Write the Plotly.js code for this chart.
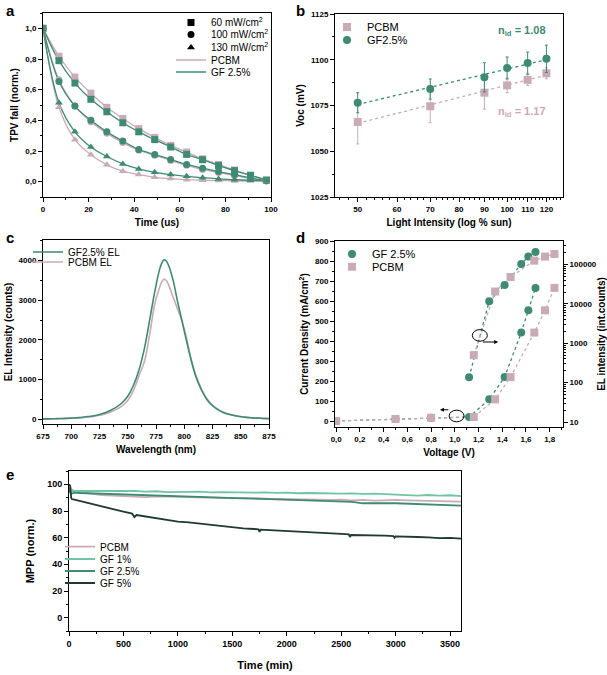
<!DOCTYPE html>
<html><head><meta charset="utf-8">
<script src="https://cdn.plot.ly/plotly-3.0.1.min.js"></script>
<style>html,body{margin:0;padding:0;background:#fff}#chart{width:607px;height:675px}</style>
</head><body><div id="chart"></div>
<script>
const W = 607, H = 675;
const FONT = 'Liberation Sans, Arial, sans-serif';
const GREEN = '#3e8a72', PINK = '#c9abb7', LGREEN = '#6fc6a0', DGREEN = '#1f3a30';

// ---------- panel a: TPV decay ----------
const tpvTime = [0, 7, 14, 21, 28, 35, 42, 49, 56, 63, 70, 77, 84, 91, 98];
const gf60    = [1, 0.789, 0.643, 0.537, 0.456, 0.384, 0.325, 0.274, 0.226, 0.178, 0.143, 0.105, 0.072, 0.042, 0.011];
const pcbm60  = [1, 0.818, 0.682, 0.577, 0.485, 0.412, 0.346, 0.289, 0.237, 0.193, 0.149, 0.112, 0.076, 0.040, 0.008];
const gf100   = [1, 0.653, 0.493, 0.400, 0.325, 0.265, 0.210, 0.177, 0.145, 0.112, 0.088, 0.066, 0.046, 0.024, 0.006];
const pcbm100 = [1, 0.664, 0.493, 0.390, 0.315, 0.255, 0.205, 0.172, 0.138, 0.107, 0.080, 0.060, 0.040, 0.020, 0.004];
const gf130   = [1, 0.515, 0.325, 0.226, 0.164, 0.116, 0.083, 0.061, 0.046, 0.035, 0.026, 0.018, 0.013, 0.009, 0.004];
const pcbm130 = [1, 0.485, 0.274, 0.175, 0.110, 0.068, 0.046, 0.028, 0.020, 0.013, 0.009, 0.007, 0.005, 0.004, 0.003];
const powerLabels = ['60 mW/cm<sup>2</sup>', '100 mW/cm<sup>2</sup>', '130 mW/cm<sup>2</sup>'];

// ---------- panel b: Voc vs light intensity ----------
const intensity = [50, 70, 90, 100, 110, 120];
const vocPCBM = [1066, 1074.6, 1082, 1086, 1089, 1092.6];
const errPCBM = [12, 9, 9, 4, 3, 3];
const vocGF   = [1076.5, 1084, 1090.4, 1095.5, 1098.2, 1100.5];
const errGF   = [5.5, 5.5, 8, 6, 6, 7.5];
const nidLabels = ['n<sub>id</sub> = 1.08', 'n<sub>id</sub> = 1.17'];

// ---------- panel c: EL spectra ----------
const wavelength = [675,680,685,690,695,700,705,710,715,720,725,730,735,740,745,750,755,760,765,770,
                    774,778,780,782,784,786,790,794,798,802,806,810,
                    815,820,825,830,835,840,845,850,855,860,865,870,875];
const elSpecGF   = [8,10,13,17,22,29,39,51,67,90,122,165,225,305,415,580,850,1250,1820,2600,
                    3230,3760,3930,4020,3990,3890,3520,2980,2480,1980,1500,1100,
                    750,500,340,235,165,118,86,62,46,35,27,20,15];
const elSpecPCBM = [7,9,11,14,18,24,32,42,55,73,99,135,184,250,340,475,720,1100,1480,2250,
                    2920,3310,3455,3530,3500,3400,3090,2790,2480,2040,1530,1130,
                    780,520,355,250,178,128,94,69,50,38,29,22,17];

// ---------- panel d: J-V and EL intensity ----------
const voltGF   = [0, 0.5, 0.8, 1.12, 1.29, 1.42, 1.56, 1.62, 1.68];
const jGF      = [2, 12, 18, 22, 110, 221, 443, 554, 666];
const voltPCBM = [0, 0.5, 0.8, 1.16, 1.34, 1.47, 1.67, 1.76, 1.84];
const jPCBM    = [2, 12, 18, 22, 110, 221, 443, 554, 666];
const elVoltGF   = [1.12, 1.29, 1.42, 1.56, 1.62, 1.68];
const elIntGF    = [137, 11800, 30200, 103500, 160000, 209000];
const elVoltPCBM = [1.16, 1.34, 1.47, 1.67, 1.76, 1.84];
const elIntPCBM  = [500, 20700, 48300, 126000, 160000, 186000];

// ---------- panel e: MPP tracking ----------
const mppTime = [0,10,25,50,100,200,300,400,500,600,700,800,900,1000,1100,1200,1300,1400,1500,1600,1700,1800,
                 1900,2000,2100,2200,2300,2400,2500,2600,2700,2800,2900,3000,3100,3200,3300,3400,3500,3600];
const mppPCBM = [100,98,96,95,94,93,92,91.6,91.2,91.3,90.4,91,90.7,90.8,90.4,90.3,90,89.9,89.5,89.8,89.3,89.3,
                 89,88.8,89.1,88.8,88.5,88.4,88.6,88,88.3,87.8,88,88.3,88,87.8,87.6,87.3,87.4,87];
const mppGF1  = [96,95.2,94.8,95,95,95.3,95,95.2,94.8,95,94.6,94.8,94.2,94.5,94.3,94.5,94,94.2,94,94.3,93.8,94,
                 93.6,93.8,93.3,93.5,93.2,93.3,93,93.2,92.8,93,92.6,92.5,92.3,91.5,92,91.5,91.8,91.2];
const mppGF25 = [97,94,93,93.8,93.5,93.2,93,92.7,92.5,92,91.8,91.5,91.2,91,90.8,90.5,90.2,90,89.8,89.5,89.3,89,
                 88.8,88.3,88,87.8,87.5,87.3,87,86.8,85.8,86,85.8,85.8,85.5,85,85.2,84.5,84.3,84];
const timeGF5 = [0,10,20,25,50,100,200,300,400,500,580,600,620,700,800,900,1000,1100,1200,1300,1400,1500,1600,1700,
                 1740,1750,1760,1800,1900,2000,2100,2200,2300,2400,2500,2570,2580,2590,2700,2800,2900,
                 2980,2990,3000,3100,3200,3300,3400,3500,3600];
const mppGF5  = [100,99,90,89,88.5,87.5,85,83.5,81,79.5,78,75.5,77,76,74.5,73.5,72,71.5,70.5,69.5,69,67.5,67,66.5,
                 66.3,64.3,66,65.8,65.3,64.8,64.5,63.8,63.3,63,62.8,62.5,60.5,62,62,61.8,61.5,
                 61.2,59.8,61,61,60.5,60.2,59.7,59.8,59.3];

// ---------- helpers ----------
const px = (x) => x / W;
const py = (y) => 1 - y / H;
function fitLog(xs, ys) {
  const lx = xs.map(Math.log10);
  const n = lx.length;
  const mx = lx.reduce((a, b) => a + b, 0) / n;
  const my = ys.reduce((a, b) => a + b, 0) / n;
  let sxy = 0, sxx = 0;
  for (let i = 0; i < n; i++) { sxy += (lx[i] - mx) * (ys[i] - my); sxx += (lx[i] - mx) ** 2; }
  const b = sxy / sxx, a = my - b * mx;
  return (x) => a + b * Math.log10(x);
}
function baseAxis(extra) {
  return Object.assign({
    showline: true, linecolor: '#000', linewidth: 1, mirror: true,
    ticks: 'outside', ticklen: 4, tickwidth: 1, tickcolor: '#000',
    showgrid: false, zeroline: false, automargin: false, fixedrange: true,
    tickfont: { family: FONT, size: 8, color: '#000', weight: 'bold' }
  }, extra);
}
function title(t, size) { return { text: t, font: { family: FONT, size: size || 10, color: '#000', weight: 'bold' } }; }
function legendAt(textX, yPx, size) {
  return { x: px(textX - 40), y: py(yPx), xref: 'paper', yref: 'paper', xanchor: 'left', yanchor: 'middle',
           bgcolor: 'rgba(0,0,0,0)', borderwidth: 0, font: { family: FONT, size: size || 10, color: '#000' },
           itemwidth: 30, tracegroupgap: 0 };
}
const commaTicks = (vals, d) => vals.map(v => v.toFixed(d).replace('.', ','));

const traces = [];
// panel a
const aSets = [
  [gf60, pcbm60, 'square'], [gf100, pcbm100, 'circle'], [gf130, pcbm130, 'triangle-up']
];
aSets.forEach(([g, p, sym], i) => {
  traces.push({ x: tpvTime, y: p, mode: 'lines', line: { color: PINK, width: 1.3, shape: 'spline' },
    name: 'PCBM', showlegend: i === 0, legend: 'legend4', xaxis: 'x', yaxis: 'y' });
  traces.push({ x: tpvTime, y: g, mode: 'lines', line: { color: GREEN, width: 1.3, shape: 'spline' },
    name: 'GF 2.5%', showlegend: i === 0, legend: 'legend5', xaxis: 'x', yaxis: 'y' });
  traces.push({ x: tpvTime, y: p, mode: 'markers', marker: { color: PINK, size: 7, symbol: sym },
    showlegend: false, xaxis: 'x', yaxis: 'y' });
  traces.push({ x: tpvTime, y: g, mode: 'markers', marker: { color: GREEN, size: 7, symbol: sym },
    showlegend: false, xaxis: 'x', yaxis: 'y' });
});
['square', 'circle', 'triangle-up'].forEach((sym, i) => {
  traces.push({ x: [null], y: [null], mode: 'markers', marker: { color: '#000', size: 7, symbol: sym },
    name: powerLabels[i], legend: i === 0 ? 'legend' : 'legend' + (i + 1), xaxis: 'x', yaxis: 'y' });
});

// panel b
const fitP = fitLog(intensity, vocPCBM), fitG = fitLog(intensity, vocGF);
const fitX = [intensity[0], intensity[intensity.length - 1]];
traces.push({ x: fitX, y: fitX.map(fitP), mode: 'lines', line: { color: PINK, width: 1.3, dash: 'dot' },
  showlegend: false, xaxis: 'x2', yaxis: 'y2' });
traces.push({ x: fitX, y: fitX.map(fitG), mode: 'lines', line: { color: GREEN, width: 1.3, dash: 'dot' },
  showlegend: false, xaxis: 'x2', yaxis: 'y2' });
traces.push({ x: intensity, y: vocPCBM, mode: 'markers', name: 'PCBM', legend: 'legend6',
  marker: { color: PINK, size: 8, symbol: 'square' },
  error_y: { type: 'data', array: errPCBM, color: PINK, thickness: 1, width: 1.5 }, xaxis: 'x2', yaxis: 'y2' });
traces.push({ x: intensity, y: vocGF, mode: 'markers', name: 'GF2.5%', legend: 'legend7',
  marker: { color: GREEN, size: 8, symbol: 'circle' },
  error_y: { type: 'data', array: errGF, color: GREEN, thickness: 1, width: 1.5 }, xaxis: 'x2', yaxis: 'y2' });

// panel c
traces.push({ x: wavelength, y: elSpecPCBM, mode: 'lines', name: 'PCBM EL', legend: 'legend9',
  line: { color: PINK, width: 1.6, shape: 'spline' }, xaxis: 'x3', yaxis: 'y3' });
traces.push({ x: wavelength, y: elSpecGF, mode: 'lines', name: 'GF2.5% EL', legend: 'legend8',
  line: { color: GREEN, width: 1.6, shape: 'spline' }, xaxis: 'x3', yaxis: 'y3' });

// panel d
traces.push({ x: voltGF, y: jGF, mode: 'lines', line: { color: GREEN, width: 1.3, dash: 'dot' }, showlegend: false, xaxis: 'x4', yaxis: 'y4' });
traces.push({ x: elVoltGF, y: elIntGF, mode: 'lines', line: { color: GREEN, width: 1.3, dash: 'dot' }, showlegend: false, xaxis: 'x4', yaxis: 'y5' });
traces.push({ x: voltPCBM, y: jPCBM, mode: 'lines', line: { color: PINK, width: 1.3, dash: 'dot' }, showlegend: false, xaxis: 'x4', yaxis: 'y4' });
traces.push({ x: elVoltPCBM, y: elIntPCBM, mode: 'lines', line: { color: PINK, width: 1.3, dash: 'dot' }, showlegend: false, xaxis: 'x4', yaxis: 'y5' });
traces.push({ x: voltGF, y: jGF, mode: 'markers', name: 'GF 2.5%', legend: 'legend10',
  marker: { color: GREEN, size: 8, symbol: 'circle' }, xaxis: 'x4', yaxis: 'y4' });
traces.push({ x: elVoltGF, y: elIntGF, mode: 'markers', showlegend: false,
  marker: { color: GREEN, size: 8, symbol: 'circle' }, xaxis: 'x4', yaxis: 'y5' });
traces.push({ x: voltPCBM, y: jPCBM, mode: 'markers', name: 'PCBM', legend: 'legend11',
  marker: { color: PINK, size: 8, symbol: 'square' }, xaxis: 'x4', yaxis: 'y4' });
traces.push({ x: elVoltPCBM, y: elIntPCBM, mode: 'markers', showlegend: false,
  marker: { color: PINK, size: 8, symbol: 'square' }, xaxis: 'x4', yaxis: 'y5' });

// panel e
traces.push({ x: mppTime, y: mppPCBM, mode: 'lines', name: 'PCBM', legend: 'legend12', line: { color: PINK, width: 1.8 }, xaxis: 'x5', yaxis: 'y6' });
traces.push({ x: mppTime, y: mppGF1, mode: 'lines', name: 'GF 1%', legend: 'legend13', line: { color: LGREEN, width: 1.8 }, xaxis: 'x5', yaxis: 'y6' });
traces.push({ x: mppTime, y: mppGF25, mode: 'lines', name: 'GF 2.5%', legend: 'legend14', line: { color: GREEN, width: 1.8 }, xaxis: 'x5', yaxis: 'y6' });
traces.push({ x: timeGF5, y: mppGF5, mode: 'lines', name: 'GF 5%', legend: 'legend15', line: { color: DGREEN, width: 1.8 }, xaxis: 'x5', yaxis: 'y6' });

// minor tick values for log axes
const minorB = [];
for (let v = 46; v <= 128; v += 2) if (!intensity.concat([60, 80]).includes(v)) minorB.push(v);
const minorLog = [];
for (let e = 1; e <= 5; e++) for (let k = 2; k <= 9; k++) minorLog.push(k * Math.pow(10, e));

const aY = [0, 0.2, 0.4, 0.6, 0.8, 1.0];
const dX = [0, 0.2, 0.4, 0.6, 0.8, 1.0, 1.2, 1.4, 1.6, 1.8];
const dY2 = [10, 100, 1000, 10000, 100000];

const layout = {
  width: W, height: H, margin: { l: 0, r: 0, t: 0, b: 0 },
  paper_bgcolor: '#fff', plot_bgcolor: '#fff', font: { family: FONT, color: '#000' },
  // panel a
  xaxis: baseAxis({ domain: [px(43), px(271)], range: [0, 100], dtick: 20, minor: { ticks: 'outside', ticklen: 2, dtick: 10, tickcolor: '#000' },
    title: Object.assign(title('Time (us)'), { standoff: 6 }), anchor: 'y' }),
  yaxis: baseAxis({ domain: [py(197), py(13)], range: [-0.1, 1.1], tickmode: 'array', tickvals: aY, ticktext: commaTicks(aY, 1),
    minor: { ticks: 'outside', ticklen: 2, dtick: 0.1, tickcolor: '#000' }, title: Object.assign(title('TPV fall (norm.)'), { standoff: 4 }), anchor: 'x' }),
  // panel b
  xaxis2: baseAxis({ domain: [px(335), px(563)], type: 'log', range: [Math.log10(45), Math.log10(129.6)],
    tickmode: 'array', tickvals: [50, 60, 70, 80, 90, 100, 110, 120], ticktext: ['50', '60', '70', '80', '90', '100', '110', '120'],
    minor: { ticks: 'outside', ticklen: 2, tickmode: 'array', tickvals: minorB, tickcolor: '#000' },
    title: Object.assign(title('Light Intensity (log % sun)'), { standoff: 6 }), anchor: 'y2' }),
  yaxis2: baseAxis({ domain: [py(197), py(14)], range: [1025, 1125], dtick: 25,
    minor: { ticks: 'outside', ticklen: 2, dtick: 12.5, tickcolor: '#000' }, title: Object.assign(title('Voc (mV)'), { standoff: 4 }), anchor: 'x2' }),
  // panel c
  xaxis3: baseAxis({ domain: [px(43), px(269)], range: [675, 875], dtick: 25,
    minor: { ticks: 'outside', ticklen: 2, dtick: 12.5, tickcolor: '#000' }, title: Object.assign(title('Wavelength (nm)'), { standoff: 6 }), anchor: 'y3' }),
  yaxis3: baseAxis({ domain: [py(424), py(240)], range: [-120, 4520], dtick: 1000,
    minor: { ticks: 'outside', ticklen: 2, dtick: 500, tickcolor: '#000' }, title: Object.assign(title('EL Intensity (counts)'), { standoff: 4 }), anchor: 'x3' }),
  // panel d
  xaxis4: baseAxis({ domain: [px(335), px(563)], range: [-0.01, 1.912], tickmode: 'array', tickvals: dX, ticktext: commaTicks(dX, 1),
    minor: { ticks: 'outside', ticklen: 2, dtick: 0.1, tickcolor: '#000' }, title: Object.assign(title('Voltage (V)'), { standoff: 6 }), anchor: 'y4' }),
  yaxis4: baseAxis({ domain: [py(427), py(241)], range: [-28, 900], dtick: 100, mirror: false,
    minor: { ticks: 'outside', ticklen: 2, dtick: 50, tickcolor: '#000' }, title: Object.assign(title('Current Density (mA/cm<sup>2</sup>)'), { standoff: 4 }), anchor: 'x4' }),
  yaxis5: baseAxis({ domain: [py(427), py(241)], overlaying: 'y4', side: 'right', type: 'log', range: [0.873, 5.6], mirror: false,
    tickmode: 'array', tickvals: dY2, ticktext: dY2.map(String),
    minor: { ticks: 'outside', ticklen: 2, tickmode: 'array', tickvals: minorLog, tickcolor: '#000' },
    title: Object.assign(title('EL intensity (int.counts)'), { standoff: 6 }), anchor: 'x4' }),
  // panel e
  xaxis5: baseAxis({ domain: [px(69), px(461)], range: [0, 3600], dtick: 500,
    tickfont: { family: FONT, size: 9, color: '#000', weight: 'bold' },
    minor: { ticks: 'outside', ticklen: 2, dtick: 250, tickcolor: '#000' }, title: Object.assign(title('Time (min)', 11), { standoff: 13 }), anchor: 'y6' }),
  yaxis6: baseAxis({ domain: [py(631), py(471)], range: [-10, 110], dtick: 20,
    tickfont: { family: FONT, size: 9, color: '#000', weight: 'bold' },
    minor: { ticks: 'outside', ticklen: 2, dtick: 10, tickcolor: '#000' }, title: Object.assign(title('MPP (norm.)', 11), { standoff: 10 }), anchor: 'x5' }),
  // legends
  legend: legendAt(211, 22.5), legend2: legendAt(211, 34.5), legend3: legendAt(211, 47.5),
  legend4: legendAt(211, 60), legend5: legendAt(211, 72),
  legend6: legendAt(367, 27, 11), legend7: legendAt(367, 40, 11),
  legend8: legendAt(68, 252), legend9: legendAt(68, 262),
  legend10: legendAt(372, 254, 11), legend11: legendAt(372, 266.7, 11),
  legend12: legendAt(100, 546.7), legend13: legendAt(100, 559), legend14: legendAt(100, 571), legend15: legendAt(100, 583),
  shapes: [
    { type: 'circle', xref: 'x4', yref: 'y4', x0: 0.952, x1: 1.078, y0: -2, y1: 56, line: { color: '#000', width: 1 } },
    { type: 'circle', xref: 'x4', yref: 'y4', x0: 1.148, x1: 1.274, y0: 400, y1: 458, line: { color: '#000', width: 1 } }
  ],
  annotations: [
    { text: '<b>a</b>', x: px(4), y: py(10), xref: 'paper', yref: 'paper', xanchor: 'left', yanchor: 'middle', showarrow: false, font: { family: FONT, size: 15, color: '#000' } },
    { text: '<b>b</b>', x: px(294), y: py(10), xref: 'paper', yref: 'paper', xanchor: 'left', yanchor: 'middle', showarrow: false, font: { family: FONT, size: 15, color: '#000' } },
    { text: '<b>c</b>', x: px(4), y: py(237), xref: 'paper', yref: 'paper', xanchor: 'left', yanchor: 'middle', showarrow: false, font: { family: FONT, size: 15, color: '#000' } },
    { text: '<b>d</b>', x: px(294), y: py(237), xref: 'paper', yref: 'paper', xanchor: 'left', yanchor: 'middle', showarrow: false, font: { family: FONT, size: 15, color: '#000' } },
    { text: '<b>e</b>', x: px(4), y: py(474), xref: 'paper', yref: 'paper', xanchor: 'left', yanchor: 'middle', showarrow: false, font: { family: FONT, size: 15, color: '#000' } },
    { text: '<b>' + nidLabels[0] + '</b>', x: Math.log10(107), y: 1115.5, xref: 'x2', yref: 'y2', showarrow: false, font: { family: FONT, size: 11, color: GREEN } },
    { text: '<b>' + nidLabels[1] + '</b>', x: Math.log10(107), y: 1071.5, xref: 'x2', yref: 'y2', showarrow: false, font: { family: FONT, size: 11, color: PINK } },
    { text: '', x: 0.875, y: 58, ax: 0.959, ay: 58, xref: 'x4', yref: 'y4', axref: 'x4', ayref: 'y4', showarrow: true, arrowhead: 2, arrowsize: 0.8, arrowwidth: 1, arrowcolor: '#000' },
    { text: '', x: 1.365, y: 396, ax: 1.225, ay: 396, xref: 'x4', yref: 'y4', axref: 'x4', ayref: 'y4', showarrow: true, arrowhead: 2, arrowsize: 0.8, arrowwidth: 1, arrowcolor: '#000' }
  ]
};

Plotly.newPlot('chart', traces, layout, { staticPlot: true, displayModeBar: false });
</script>
</body></html>
